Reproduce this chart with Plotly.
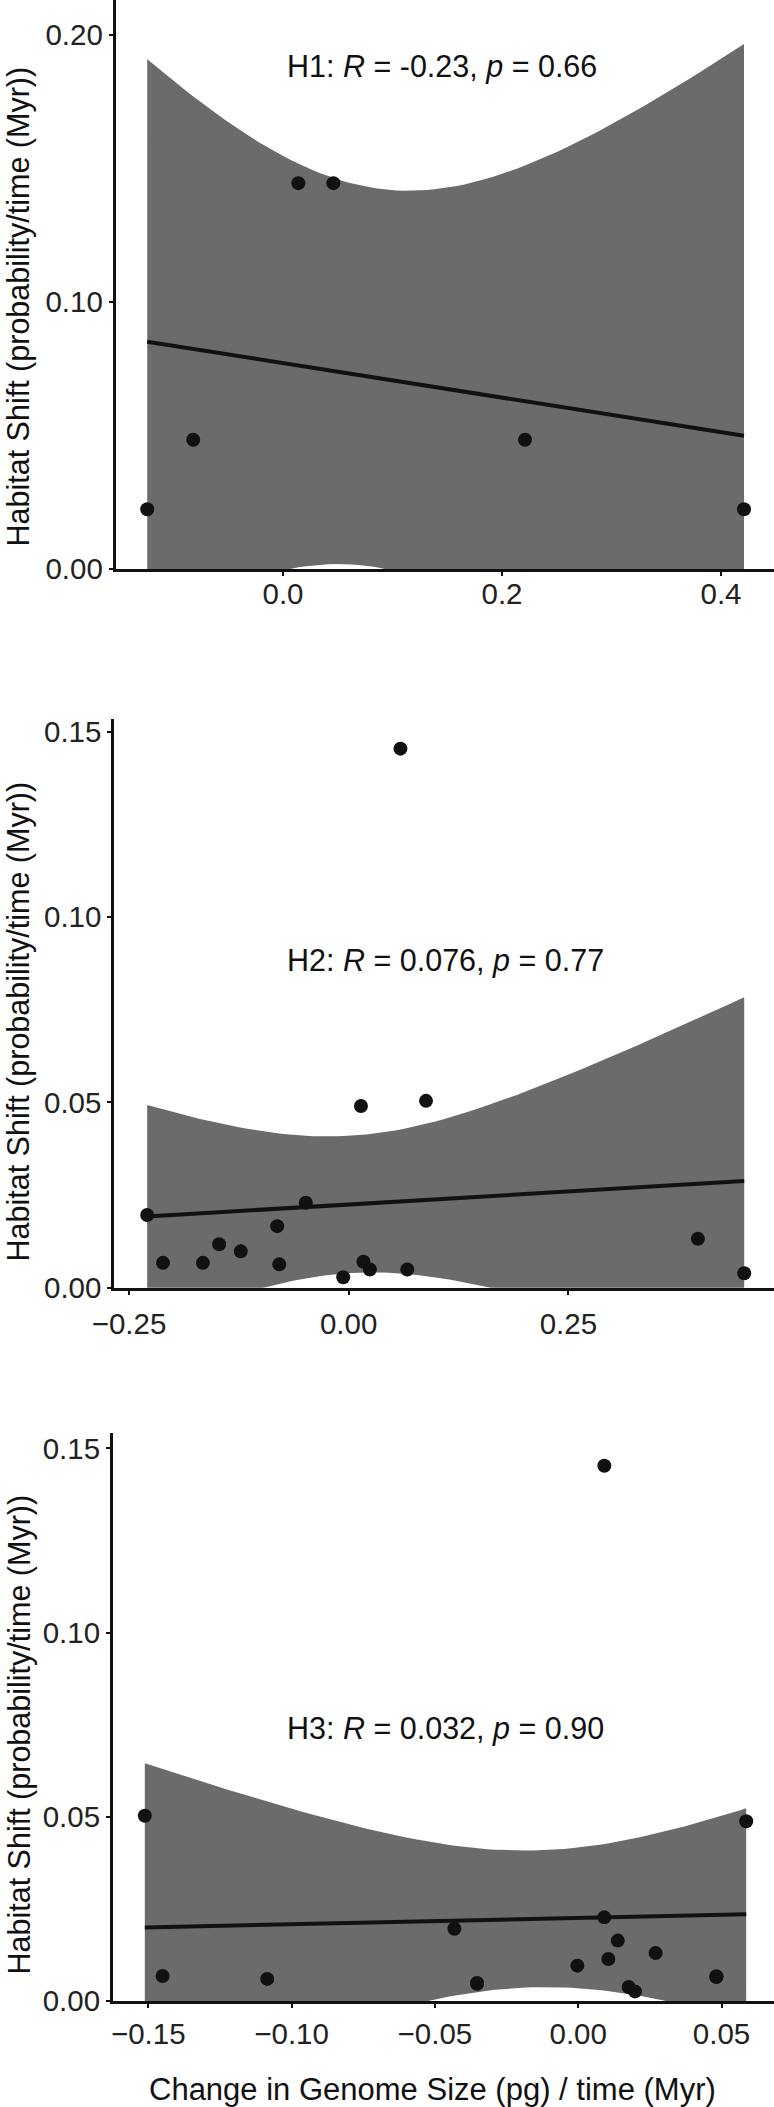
"""Habitat shift vs genome size change, three hypotheses (H1-H3)"""
import numpy as np
import plotly.graph_objects as go

# ---- data ----
H1_X = [-0.124, -0.082, 0.014, 0.046, 0.221, 0.421]
H1_Y = [0.0224, 0.0484, 0.1445, 0.1445, 0.0484, 0.0224]

H2_X = [-0.2293, -0.2113, -0.1659, -0.1474, -0.1228, -0.0813, -0.0790, -0.0488, -0.0062,
        0.0140, 0.0168, 0.0241, 0.0589, 0.0667, 0.0880, 0.3974, 0.4501]
H2_Y = [0.0196, 0.0067, 0.0067, 0.0117, 0.0098, 0.0166, 0.0063, 0.0229, 0.0028,
        0.0490, 0.0070, 0.0049, 0.1454, 0.0049, 0.0504, 0.0132, 0.0039]

# two of the H3 points sit exactly on top of others (17 species, as in H2)
H3_X = [-0.1512, -0.1450, -0.1085, -0.0432, -0.0353, -0.0353, -0.0003, 0.0091, 0.0091,
        0.0105, 0.0138, 0.0176, 0.0198, 0.0270, 0.0482, 0.0482, 0.0586]
H3_Y = [0.0503, 0.0068, 0.0060, 0.0196, 0.0047, 0.0049, 0.0096, 0.1453, 0.0227,
        0.0114, 0.0164, 0.0038, 0.0026, 0.0130, 0.0065, 0.0067, 0.0488]

LABELS = [
    "H1: <i>R</i> = -0.23, <i>p</i> = 0.66",
    "H2: <i>R</i> = 0.076, <i>p</i> = 0.77",
    "H3: <i>R</i> = 0.032, <i>p</i> = 0.90",
]

X_TICKS = [[0.0, 0.2, 0.4], [-0.25, 0.0, 0.25], [-0.15, -0.10, -0.05, 0.0, 0.05]]
X_TICKTEXT = [["0.0", "0.2", "0.4"], ["−0.25", "0.00", "0.25"],
              ["−0.15", "−0.10", "−0.05", "0.00", "0.05"]]
Y_TICKS = [[0.0, 0.10, 0.20], [0.0, 0.05, 0.10, 0.15], [0.0, 0.05, 0.10, 0.15]]
Y_TICKTEXT = [["0.00", "0.10", "0.20"], ["0.00", "0.05", "0.10", "0.15"],
              ["0.00", "0.05", "0.10", "0.15"]]

Y_TITLE = "Habitat Shift (probability/time (Myr))"
X_TITLE = "Change in Genome Size (pg) / time (Myr)"

# 95% t quantiles by residual degrees of freedom
T95 = {4: 2.7764, 13: 2.1604, 15: 2.1314}

W, H = 774, 2107
FONT = "Liberation Sans, Arial, Helvetica, sans-serif"
INK = "#111111"
BAND = "#6b6b6b"

# panel geometry in pixels: left edge, top, bottom; data ranges
PANELS = [
    dict(left=115.7, top=0, bottom=569, xr=[-0.1528, 0.4484], yr=[0, 0.2131], stand=-7),
    dict(left=114.3, top=719, bottom=1287.7, xr=[-0.2667, 0.4840], yr=[0, 0.1534], stand=4),
    dict(left=113.0, top=1433.3, bottom=2001, xr=[-0.1623, 0.0683], yr=[0, 0.1541], stand=1),
]
LABEL_Y = [66.7, 960, 1729]
YTITLE_Y = [307, 1022, 1735]


def lm_band(x, y, n_grid=80):
    x = np.asarray(x, dtype=float)
    y = np.asarray(y, dtype=float)
    n = len(x)
    slope, icpt = np.polyfit(x, y, 1)
    xs = np.linspace(x.min(), x.max(), n_grid)
    fit = icpt + slope * xs
    resid = y - (icpt + slope * x)
    s = np.sqrt((resid ** 2).sum() / (n - 2))
    sxx = ((x - x.mean()) ** 2).sum()
    se = s * np.sqrt(1 / n + (xs - x.mean()) ** 2 / sxx)
    t = T95[n - 2]
    return xs, fit, fit - t * se, fit + t * se


fig = go.Figure()
layout = dict(
    width=W, height=H,
    margin=dict(l=0, r=0, t=0, b=0, autoexpand=False),
    paper_bgcolor="white", plot_bgcolor="white",
    showlegend=False,
    font=dict(family=FONT, color=INK),
)
annotations = []

for i, (xv, yv) in enumerate([(H1_X, H1_Y), (H2_X, H2_Y), (H3_X, H3_Y)]):
    p = PANELS[i]
    n = "" if i == 0 else str(i + 1)
    xa, ya = "x" + n, "y" + n

    xs, fit, lo, hi = lm_band(xv, yv)
    fig.add_trace(go.Scatter(
        x=np.concatenate([xs, xs[::-1]]), y=np.concatenate([hi, lo[::-1]]),
        fill="toself", fillcolor=BAND, line=dict(width=0), mode="lines",
        hoverinfo="skip", xaxis=xa, yaxis=ya,
    ))
    fig.add_trace(go.Scatter(
        x=xs, y=fit, mode="lines", line=dict(color=INK, width=4),
        hoverinfo="skip", xaxis=xa, yaxis=ya,
    ))
    fig.add_trace(go.Scatter(
        x=xv, y=yv, mode="markers", cliponaxis=False,
        marker=dict(size=14, color=INK, line=dict(width=0)),
        xaxis=xa, yaxis=ya,
    ))

    axis_common = dict(
        showline=True, linewidth=3, linecolor=INK, mirror=False, automargin=False,
        showgrid=False, zeroline=False, ticks="outside", ticklen=4, tickwidth=2,
        tickcolor=INK, tickfont=dict(family=FONT, size=29.5, color="#222222"),
        tickmode="array", fixedrange=True,
    )
    layout["xaxis" + n] = dict(
        axis_common, domain=[p["left"] / W, 1], range=p["xr"], anchor=ya,
        tickvals=X_TICKS[i], ticktext=X_TICKTEXT[i], ticklabelstandoff=p["stand"],
    )
    layout["yaxis" + n] = dict(
        axis_common, domain=[(H - p["bottom"]) / H, (H - p["top"]) / H],
        range=p["yr"], anchor=xa,
        tickvals=Y_TICKS[i], ticktext=Y_TICKTEXT[i],
    )

    annotations.append(dict(
        text=LABELS[i], xref="paper", yref="paper",
        x=285 / W, y=(H - LABEL_Y[i]) / H, xanchor="left", yanchor="middle",
        showarrow=False, font=dict(family=FONT, size=30.5, color=INK),
    ))
    annotations.append(dict(
        text=Y_TITLE, xref="paper", yref="paper", textangle=-90,
        x=18.5 / W, y=(H - YTITLE_Y[i]) / H, xanchor="center", yanchor="middle",
        showarrow=False, font=dict(family=FONT, size=30.5, color=INK),
    ))

annotations.append(dict(
    text=X_TITLE, xref="paper", yref="paper",
    x=432 / W, y=(H - 2089) / H, xanchor="center", yanchor="middle",
    showarrow=False, font=dict(family=FONT, size=31, color=INK),
))
layout["annotations"] = annotations

fig.update_layout(**layout)
# the page's default body margin would push the figure off the 774px window
fig.write_html(
    "out.html",
    config={"displayModeBar": False},
    post_script="document.body.style.margin='0';",
)
